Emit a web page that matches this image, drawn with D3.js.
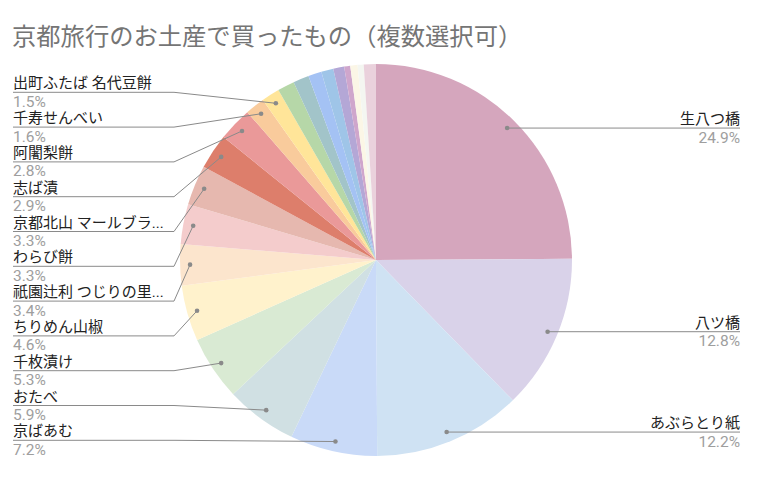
<!DOCTYPE html>
<html>
<head>
<meta charset="utf-8">
<script src="https://cdn.jsdelivr.net/npm/d3@7"></script>
<style>
	body { margin: 0; background: white; }
	text { font-family: Roboto, "Noto Sans CJK JP", sans-serif; }
</style>
</head>
<body>
<script>
// slices, clockwise from 12 o'clock
var names = [
	'生八つ橋', '八ツ橋', 'あぶらとり紙', '京ばあむ', 'おたべ', '千枚漬け',
	'ちりめん山椒', '祇園辻利 つじりの里...', 'わらび餅', '京都北山 マールブラ...',
	'志ば漬', '阿闍梨餅', '千寿せんべい', '出町ふたば 名代豆餅',
	'その他1', 'その他2', 'その他3', 'その他4', 'その他5', 'その他6',
	'その他7', 'その他8', 'その他9'
]
var shares = [
	24.9, 12.8, 12.2, 7.2, 5.9, 5.3,
	4.6, 3.4, 3.3, 3.3,
	2.9, 2.8, 1.6, 1.5,
	1.4, 1.3, 1.1, 1.0, 0.9, 0.5,
	0.6, 0.5, 1.0
]
var colors = [
	'#d5a6bd', '#d9d2e9', '#cfe2f3', '#c9daf8', '#d0e0e3', '#d9ead3',
	'#fff2cc', '#fce5cd', '#f4cccc', '#e6b8af',
	'#dd7e6b', '#ea9999', '#f9cb9c', '#ffe599',
	'#b6d7a8', '#a2c4c9', '#a4c2f4', '#9fc5e8', '#b4a7d6', '#cfa6cc',
	'#fbf6e6', '#f4f6f1', '#ead1dc'
]
var labelCount = 14
var rightLabels = 3

var width = 780,
	height = 478
var cx = 376, cy = 260, radius = 196

var svg = d3.select('body').append('svg')
	.attr('width', width)
	.attr('height', height)

svg.append('text')
	.attr('x', 12)
	.attr('y', 45)
	.attr('fill', '#757575')
	.style('font-size', '24.3px')
	.text('京都旅行のお土産で買ったもの（複数選択可）')

var pie = d3.pie()
	.sort(null)
	.value(d => d)

var arcs = pie(shares)

var arc = d3.arc()
	.innerRadius(0)
	.outerRadius(radius)

var dotArc = d3.arc()
	.innerRadius(186)
	.outerRadius(186)

var g = svg.append('g')
	.attr('transform', 'translate(' + cx + ',' + cy + ')')

g.selectAll('path')
	.data(arcs)
	.enter()
	.append('path')
		.attr('d', arc)
		.attr('fill', (d, i) => colors[i])

// labels
var labelled = arcs.slice(0, labelCount).map(function (d, i) {
	var c = dotArc.centroid(d)
	var p = { name: names[i], pct: shares[i].toFixed(1) + '%', dx: cx + c[0], dy: cy + c[1] }
	if (i < rightLabels) {
		p.side = 'right'
		p.ly = p.dy
	} else {
		p.side = 'left'
		p.ly = 440.3 - (i - rightLabels) * 34.8 // stacked up from the bottom
	}
	return p
})

var lab = svg.append('g')

lab.selectAll('path')
	.data(labelled)
	.enter()
	.append('path')
		.attr('fill', 'none')
		.attr('stroke', '#8a8a8a')
		.attr('stroke-width', 1)
		.attr('d', function (d) {
			if (d.side == 'right') return 'M' + d.dx + ',' + d.dy + 'H740'
			return 'M13,' + d.ly + 'H174L' + d.dx + ',' + d.dy
		})

lab.selectAll('circle')
	.data(labelled)
	.enter()
	.append('circle')
		.attr('cx', d => d.dx)
		.attr('cy', d => d.dy)
		.attr('r', 2.3)
		.attr('fill', '#8a8a8a')

lab.selectAll('text.name')
	.data(labelled)
	.enter()
	.append('text')
		.attr('class', 'name')
		.attr('x', d => d.side == 'right' ? 740 : 13)
		.attr('y', d => d.ly - 4)
		.attr('text-anchor', d => d.side == 'right' ? 'end' : 'start')
		.attr('fill', '#222')
		.style('font-size', '15px')
		.text(d => d.name)

lab.selectAll('text.pct')
	.data(labelled)
	.enter()
	.append('text')
		.attr('class', 'pct')
		.attr('x', d => d.side == 'right' ? 740 : 13)
		.attr('y', d => d.ly + 14.5)
		.attr('text-anchor', d => d.side == 'right' ? 'end' : 'start')
		.attr('fill', '#9e9e9e')
		.style('font-size', '15.5px')
		.text(d => d.pct)
</script>
</body>
</html>
